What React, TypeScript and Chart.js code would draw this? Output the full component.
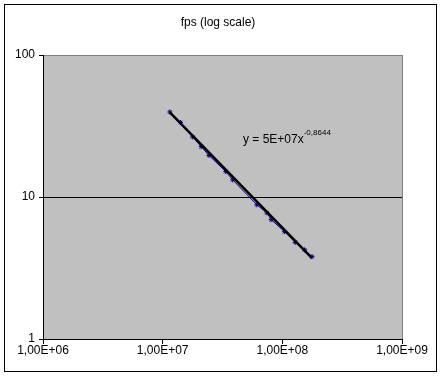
import React, { useEffect, useRef } from "react";
import { Chart, registerables } from "chart.js";

Chart.register(...registerables);

const chartTitle = "fps (log scale)";
const pixelsX = [1.148e7, 1.41e7, 1.78e7, 2.1e7, 2.44e7, 3.37e7, 3.85e7, 6.12e7, 7.43e7, 8.07e7, 1.043e8, 1.282e8, 1.535e8, 1.77e8];
const fpsValues = [39.7, 33.5, 26.5, 22.6, 19.6, 15.1, 13.2, 8.81, 7.73, 6.93, 5.7, 4.79, 4.24, 3.8];
const trendCoef = 5e7;
const trendExp = -0.8644;
const xTickValues = [1e6, 1e7, 1e8, 1e9];
const xTickLabels = ["1,00E+06", "1,00E+07", "1,00E+08", "1,00E+09"];
const yTickValues = [1, 10, 100];
const yTickLabels = ["1", "10", "100"];
const eqMain = "y = 5E+07x";
const eqSup = "-0,8644";

const FONT = "'Liberation Sans', Arial, sans-serif";

export default function App() {
  const ref = useRef<HTMLCanvasElement | null>(null);
  useEffect(() => {
    document.body.style.margin = "0";
    const canvas = ref.current!;
    const xMin = pixelsX[0];
    const xMax = pixelsX[pixelsX.length - 1];
    const trend = [xMin, xMax].map((x) => ({ x, y: trendCoef * Math.pow(x, trendExp) }));

    const framePlugin = {
      id: "frame",
      beforeDraw(chart: any) {
        const { ctx, chartArea: a } = chart;
        ctx.save();
        ctx.fillStyle = "#ffffff";
        ctx.fillRect(0, 0, chart.width, chart.height);
        ctx.fillStyle = "#c0c0c0";
        ctx.fillRect(a.left, a.top, a.right - a.left, a.bottom - a.top);
        ctx.strokeStyle = "#808080";
        ctx.lineWidth = 1;
        ctx.strokeRect(Math.round(a.left) + 0.5, Math.round(a.top) + 0.5, Math.round(a.right - a.left), Math.round(a.bottom - a.top));
        ctx.strokeStyle = "#000000";
        ctx.strokeRect(4.5, 4.5, 432, 367);
        ctx.fillStyle = "#000000";
        ctx.font = `12px ${FONT}`;
        ctx.textAlign = "center";
        ctx.textBaseline = "middle";
        ctx.fillText(chartTitle, 218, 23);
        ctx.restore();
      },
      afterDraw(chart: any) {
        const { ctx } = chart;
        ctx.save();
        ctx.fillStyle = "#000000";
        ctx.font = `12px ${FONT}`;
        ctx.textAlign = "left";
        ctx.textBaseline = "alphabetic";
        ctx.fillText(eqMain, 243, 143);
        const w = ctx.measureText(eqMain).width;
        ctx.font = `8px ${FONT}`;
        ctx.fillText(eqSup, 243 + w, 135);
        ctx.restore();
      },
    };

    const chart = new Chart(canvas, {
      type: "scatter",
      data: {
        datasets: [
          {
            data: trend,
            showLine: true,
            borderColor: "#000000",
            borderWidth: 2.5,
            pointRadius: 0,
          },
          {
            data: pixelsX.map((x, i) => ({ x, y: fpsValues[i] })),
            showLine: true,
            borderColor: "#000080",
            borderWidth: 1,
            pointStyle: "star",
            pointRadius: 2.5,
            pointBorderColor: "#000080",
            pointBackgroundColor: "#000080",
            pointBorderWidth: 1,
          },
        ],
      },
      options: {
        animation: false,
        responsive: false,
        events: [],
        layout: { padding: { left: 0, top: 55, right: 39, bottom: 0 } },
        plugins: { legend: { display: false }, tooltip: { enabled: false }, title: { display: false } },
        scales: {
          x: {
            type: "logarithmic",
            min: 1e6,
            max: 1e9,
            afterBuildTicks: (s: any) => {
              s.ticks = xTickValues.map((v) => ({ value: v }));
            },
            afterFit: (s: any) => {
              s.height = 38;
            },
            ticks: {
              autoSkip: false,
              maxRotation: 0,
              padding: -1,
              color: "#000000",
              font: { family: FONT, size: 12 },
              callback: (v: any) => {
                const i = xTickValues.indexOf(Number(v));
                return i >= 0 ? xTickLabels[i] : "";
              },
            },
            grid: { drawOnChartArea: false, tickLength: 5, tickColor: "#000000", color: "#000000" },
            border: { display: true, color: "#000000", width: 1 },
          },
          y: {
            type: "logarithmic",
            min: 1,
            max: 100,
            afterBuildTicks: (s: any) => {
              s.ticks = yTickValues.map((v) => ({ value: v }));
            },
            afterFit: (s: any) => {
              s.width = 43;
            },
            ticks: {
              autoSkip: false,
              padding: 4,
              color: "#000000",
              font: { family: FONT, size: 12 },
              callback: (v: any) => {
                const i = yTickValues.indexOf(Number(v));
                return i >= 0 ? yTickLabels[i] : "";
              },
            },
            grid: {
              tickLength: 4,
              tickColor: "#000000",
              color: (c: any) => (c.tick && c.tick.value === 10 ? "#000000" : "rgba(0,0,0,0)"),
            },
            border: { display: true, color: "#000000", width: 1 },
          },
        },
      },
      plugins: [framePlugin],
    });
    return () => chart.destroy();
  }, []);

  return (
    <div style={{ position: "fixed", left: 0, top: 0, width: 441, height: 377 }}>
      <canvas ref={ref} width={441} height={377} style={{ display: "block" }} />
    </div>
  );
}
